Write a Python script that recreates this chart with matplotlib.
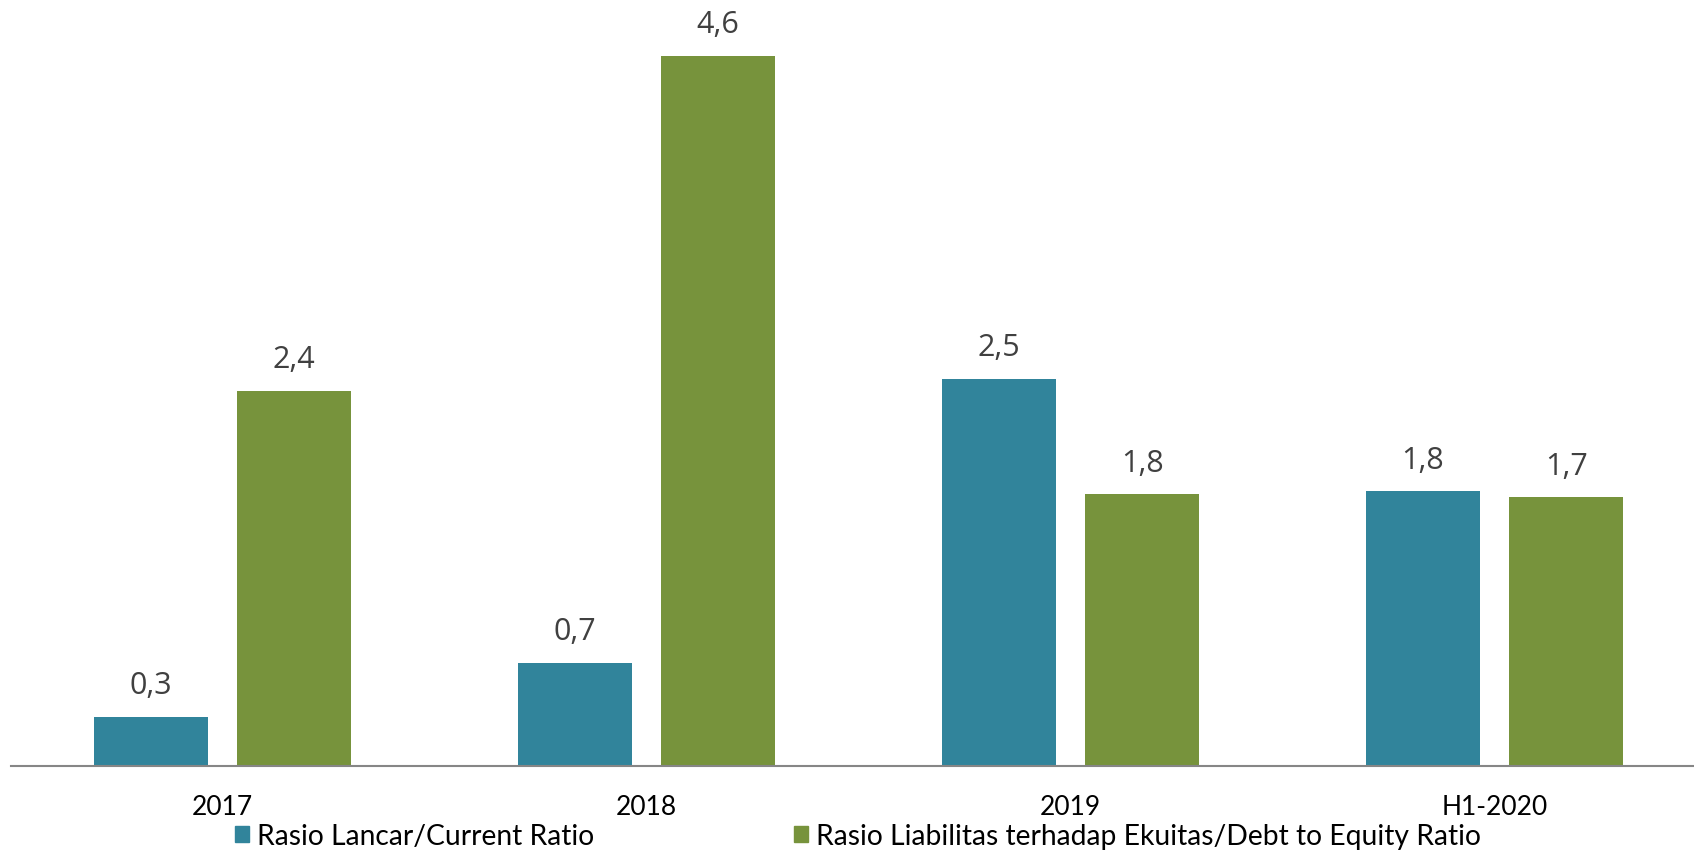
import numpy as np
import matplotlib.pyplot as plt
from matplotlib.patches import Patch

# data (bar heights, labels show 1 decimal)
categories = ['2017', '2018', '2019', 'H1-2020']
current_ratio = [0.32, 0.67, 2.51, 1.78]
debt_equity = [2.43, 4.60, 1.76, 1.74]
series_names = ['Rasio Lancar/Current Ratio',
                'Rasio Liabilitas terhadap Ekuitas/Debt to Equity Ratio']

teal = '#31849B'
green = '#77933C'
label_font = ['Liberation Sans Narrow', 'Lato', 'DejaVu Sans']

fig = plt.figure(figsize=(16.94, 8.54), dpi=100)
ax = fig.add_axes([10.6/1694, 87/854, 1696/1694, 1 - 87/854])

x = np.arange(len(categories))
w = 0.268
off = 0.169
b1 = ax.bar(x - off, current_ratio, w, color=teal)
b2 = ax.bar(x + off, debt_equity, w, color=green)

def fmt(v):
    return f'{v:.1f}'.replace('.', ',')

for bars, vals in [(b1, current_ratio), (b2, debt_equity)]:
    for r, v in zip(bars, vals):
        ax.annotate(fmt(v), (r.get_x() + r.get_width()/2, r.get_height()),
                    xytext=(0, 12), textcoords='offset points',
                    ha='center', va='bottom', fontsize=22,
                    family='Open Sans', color='#404040')

ax.set_xlim(-0.5, 3.5)
ax.set_ylim(0, 4.97)
ax.set_yticks([])
ax.set_xticks(x)
ax.set_xticklabels(categories, family=label_font, fontsize=19)
ax.tick_params(axis='x', length=0, pad=20)
for s in ['top', 'right', 'left']:
    ax.spines[s].set_visible(False)
ax.spines['bottom'].set_color('#868686')
ax.spines['bottom'].set_linewidth(1.5)

handles = [Patch(color=teal), Patch(color=green)]
fig.legend(handles, series_names, loc='center left', ncol=2,
           bbox_to_anchor=(235/1694, 17/854), frameon=False,
           prop={'family': label_font, 'size': 20.3},
           handlelength=0.5, handleheight=0.5, handletextpad=0.28,
           columnspacing=7.1, borderaxespad=0, borderpad=0)

fig.savefig('out.png', dpi=100)
